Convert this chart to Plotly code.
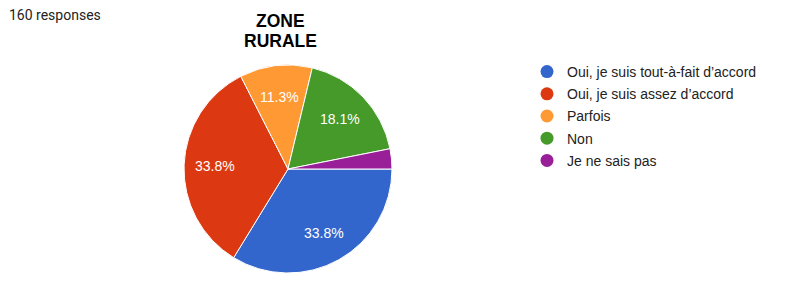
import math
import plotly.graph_objects as go

labels = ["Oui, je suis tout-à-fait d’accord", "Oui, je suis assez d’accord", "Parfois", "Non", "Je ne sais pas"]
counts = [54, 54, 18, 29, 5]
colors = ["#3366cc", "#dc3912", "#ff9933", "#469a2a", "#991f99"]
title_lines = ["ZONE", "RURALE"]
responses_text = "160 responses"

W, H = 800, 284
cx, cy, r = 288, 169, 104
total = sum(counts)

fig = go.Figure()
fig.add_trace(go.Pie(
    labels=labels, values=counts, sort=False, direction="clockwise", rotation=90,
    marker=dict(colors=colors, line=dict(color="white", width=1)),
    textinfo="none",
    domain=dict(x=[(cx - r) / W, (cx + r) / W], y=[(H - cy - r) / H, (H - cy + r) / H]),
    showlegend=False, hoverinfo="label+percent",
))
for i, (lab, col) in enumerate(zip(labels, colors)):
    fig.add_trace(go.Scatter(x=[None], y=[None], mode="markers", name=lab, legendgroup=str(i),
                             marker=dict(symbol="circle", size=13, color=col)))

annotations = []
# percentage labels placed along each slice's mid-angle (clockwise from 3 o'clock)
start = 0.0
for c in counts:
    frac = c / total
    mid = (start + frac / 2) * 2 * math.pi
    start += frac
    if frac < 0.05:
        continue
    pct = math.floor(c * 1000 / total + 0.5) / 10
    px = cx + 0.7 * r * math.cos(mid)
    py = cy + 0.7 * r * math.sin(mid)
    annotations.append(dict(text=f"{pct:.1f}%", x=px / W, y=1 - py / H, xref="paper", yref="paper",
                            showarrow=False, xanchor="center", yanchor="middle",
                            font=dict(family="Liberation Sans, Arial", size=14, color="white")))
for line, ty in zip(title_lines, [21.5, 40.8]):
    annotations.append(dict(text=f"<b>{line}</b>", x=280 / W, y=1 - ty / H, xref="paper", yref="paper",
                            showarrow=False, xanchor="center", yanchor="middle",
                            font=dict(family="Liberation Sans, Arial", size=17.5, color="black")))
annotations.append(dict(text=responses_text, x=7 / W, y=1 - 15.5 / H, xref="paper", yref="paper",
                        showarrow=False, xanchor="left", yanchor="middle",
                        font=dict(family="Roboto", size=14, color="#222222")))

fig.update_layout(
    width=W, height=H, margin=dict(l=0, r=0, t=0, b=0),
    paper_bgcolor="white", plot_bgcolor="white",
    xaxis=dict(visible=False), yaxis=dict(visible=False),
    legend=dict(x=527 / W, y=1 - 56 / H, xanchor="left", yanchor="top",
                font=dict(family="Liberation Sans, Arial", size=14, color="#222222"),
                itemsizing="trace", tracegroupgap=1, bgcolor="rgba(0,0,0,0)"),
    annotations=annotations,
)
fig.write_html("out.html")
